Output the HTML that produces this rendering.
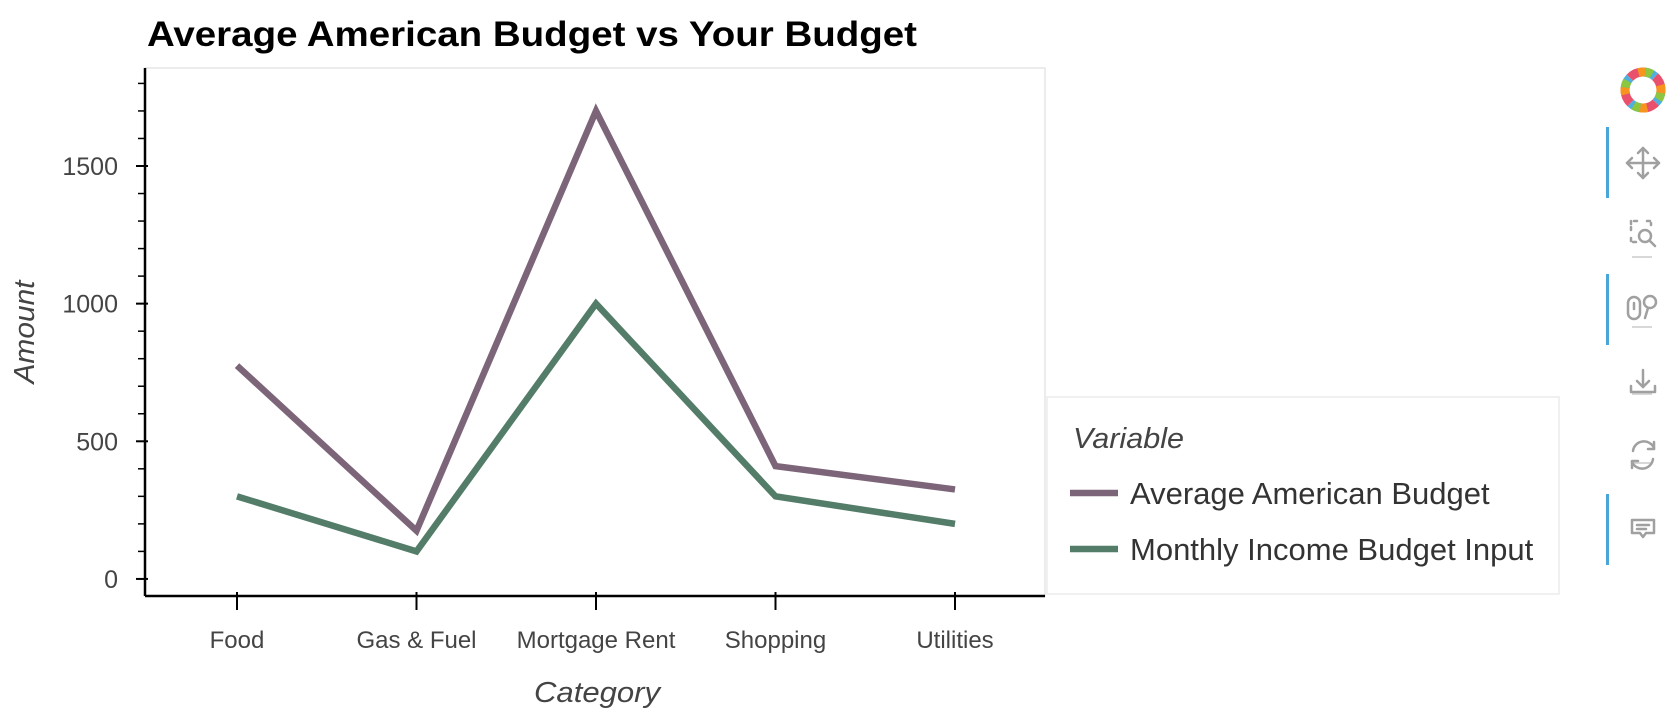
<!DOCTYPE html>
<html><head><meta charset="utf-8"><style>
html,body{margin:0;padding:0;background:#fff;width:1680px;height:712px;overflow:hidden;font-family:"Liberation Sans",Arial,sans-serif}
</style></head><body>
<svg id="chart" width="1680" height="712" xmlns="http://www.w3.org/2000/svg">
<text x="147" y="46" font-size="35" font-weight="bold" fill="#000" textLength="770" lengthAdjust="spacingAndGlyphs">Average American Budget vs Your Budget</text>
<rect x="145" y="68" width="900" height="528" fill="#fff" stroke="#e6e6e6" stroke-width="1.5"/>
<g id="yaxis"></g>
<g id="xaxis"></g>
<g id="lines"></g>
<text transform="translate(34,332) rotate(-90)" text-anchor="middle" font-size="29" font-style="italic" fill="#444" textLength="103" lengthAdjust="spacingAndGlyphs">Amount</text>
<text x="597" y="702" text-anchor="middle" font-size="29" font-style="italic" fill="#444" textLength="126" lengthAdjust="spacingAndGlyphs">Category</text>
<g>
<rect x="1047" y="397" width="512" height="197" fill="#fff" stroke="#ececec" stroke-width="1.5"/>
<text x="1073" y="448" font-size="29" font-style="italic" fill="#444" textLength="111" lengthAdjust="spacingAndGlyphs">Variable</text>
<g id="legend-entries"></g>
</g>
<g>
<g>
<circle cx="1643" cy="90" r="18" fill="none" stroke="#4fb0e0" stroke-width="9" stroke-dasharray="14 14"/>
<circle cx="1643" cy="90" r="18" fill="none" stroke="#e8506c" stroke-width="9" stroke-dasharray="14 14" stroke-dashoffset="14"/>
<circle cx="1643" cy="90" r="18" fill="none" stroke="#8dc63f" stroke-width="9" stroke-dasharray="7 21" stroke-dashoffset="-3"/>
<circle cx="1643" cy="90" r="18" fill="none" stroke="#f7941d" stroke-width="9" stroke-dasharray="7 21" stroke-dashoffset="-52"/>
</g>
<rect x="1606" y="127" width="3" height="71" fill="#4aa6d6"/>
<rect x="1606" y="274" width="3" height="71" fill="#4aa6d6"/>
<rect x="1606" y="494" width="3" height="71" fill="#4aa6d6"/>
<g stroke="#ccc" stroke-width="1.5">
<line x1="1632" y1="257" x2="1652" y2="257"/><line x1="1632" y1="327" x2="1652" y2="327"/><line x1="1632" y1="394" x2="1652" y2="394"/><line x1="1632" y1="463" x2="1652" y2="463"/>
</g>
<g fill="none" stroke="#a0a0a0" stroke-width="2.5" stroke-linecap="round" stroke-linejoin="round">
<g><line x1="1627" y1="163" x2="1659" y2="163"/><line x1="1643" y1="148" x2="1643" y2="178"/><polyline points="1638,153 1643,148 1648,153"/><polyline points="1638,173 1643,178 1648,173"/><polyline points="1632,158 1627,163 1632,168"/><polyline points="1654,158 1659,163 1654,168"/></g>
<g><path d="M1631 230 v-9 h9 M1647 221 h4 v4 M1631 238 v4 h5" stroke-dasharray="3 3"/><circle cx="1645" cy="236" r="6"/><line x1="1650" y1="241" x2="1655" y2="246"/></g>
<g><rect x="1628" y="297" width="12" height="22" rx="6"/><line x1="1634" y1="303" x2="1634" y2="309"/><circle cx="1650" cy="302" r="6"/><line x1="1648" y1="308" x2="1645" y2="318"/></g>
<g><line x1="1643" y1="370" x2="1643" y2="387"/><polyline points="1637,381 1643,387 1649,381"/><path d="M1631 386 v6 h24 v-6"/></g>
<g><path d="M1654 448 a11 11 0 0 0 -21 3"/><path d="M1632 462 a11 11 0 0 0 21 -3"/><polyline points="1654,442 1654,449 1648,449"/><polyline points="1632,468 1632,461 1638,461"/></g>
<g><path d="M1632 520 h22 v13 h-8 l-3 4 l-3 -4 h-8 z"/><line x1="1637" y1="525" x2="1649" y2="525"/><line x1="1637" y1="529" x2="1646" y2="529"/></g>
</g>
</g>
</svg>
<script>
const categories = ["Food","Gas & Fuel","Mortgage Rent","Shopping","Utilities"];
const averageBudget = [775, 175, 1700, 410, 325];
const monthlyBudget = [300, 100, 1000, 300, 200];
const yTicks = [0, 500, 1000, 1500];
const seriesNames = ["Average American Budget","Monthly Income Budget Input"];
const seriesColors = ["#7d6579","#537c69"];

const NS = "http://www.w3.org/2000/svg";
const plotL = 145, plotR = 1045, plotT = 68, plotB = 596;
const yMin = -62, yMax = 1856;
function yScale(v){ return plotB - (v - yMin) / (yMax - yMin) * (plotB - plotT); }
function xScale(i){ return 237 + i * (955 - 237) / (categories.length - 1); }
function mk(tag, attrs, parent){ const e = document.createElementNS(NS, tag); for (const k in attrs) e.setAttribute(k, attrs[k]); parent.appendChild(e); return e; }

const ya = document.getElementById('yaxis');
mk('line', {x1: plotL, y1: plotT, x2: plotL, y2: plotB, stroke: '#000', 'stroke-width': 2.5}, ya);
for (let v = 0; v <= yMax; v += 100) {
  const t = mk('line', {x1: plotL - 7, y1: yScale(v), x2: plotL, y2: yScale(v), stroke: '#000', 'stroke-width': 1.5}, ya);
  
  
}
yTicks.forEach(v => {
  const t = mk('line', {x1: plotL - 9, y1: yScale(v), x2: plotL + 3, y2: yScale(v), stroke: '#000', 'stroke-width': 2}, ya);
  
  
  const l = mk('text', {x: plotL - 27, y: yScale(v) + 9, 'text-anchor': 'end', 'font-size': 25, fill: '#444'}, ya);
  l.textContent = v;
  
  
});

const xa = document.getElementById('xaxis');
mk('line', {x1: plotL, y1: plotB, x2: plotR, y2: plotB, stroke: '#000', 'stroke-width': 2.5}, xa);
categories.forEach((c, i) => {
  const t = mk('line', {x1: xScale(i), y1: plotB - 4, x2: xScale(i), y2: plotB + 14, stroke: '#000', 'stroke-width': 2}, xa);
  
  
  const l = mk('text', {x: xScale(i), y: 648, 'text-anchor': 'middle', 'font-size': 24, fill: '#444'}, xa);
  l.textContent = c;
  
  
});

const lg = document.getElementById('lines');
[averageBudget, monthlyBudget].forEach((arr, s) => {
  const pts = arr.map((v, i) => xScale(i) + ',' + yScale(v)).join(' ');
  const p = mk('polyline', {points: pts, fill: 'none', stroke: seriesColors[s], 'stroke-width': 6.5, 'stroke-linejoin': 'miter'}, lg);
  
  
});

const le = document.getElementById('legend-entries');
seriesNames.forEach((n, s) => {
  const y = 493 + s * 56;
  const ln = mk('line', {x1: 1070, y1: y, x2: 1118, y2: y, stroke: seriesColors[s], 'stroke-width': 6.5}, le);
  
  
  const t = mk('text', {x: 1130, y: y + 11, 'font-size': 31, fill: '#333'}, le);
  t.textContent = n;
  
  
});
</script>
</body></html>
